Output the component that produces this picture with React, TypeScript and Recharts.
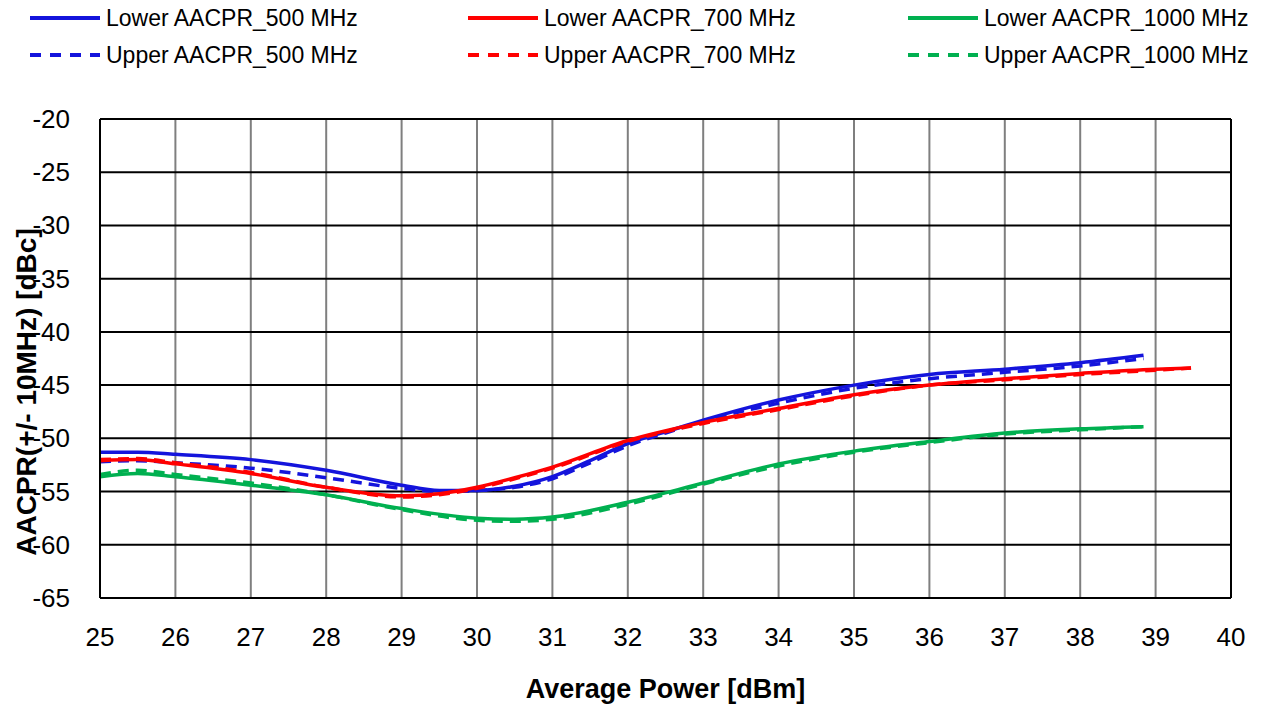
import React from "react";
import { LineChart, Line, XAxis, YAxis, CartesianGrid, ReferenceLine } from "recharts";

const xTicks = [25, 26, 27, 28, 29, 30, 31, 32, 33, 34, 35, 36, 37, 38, 39, 40];
const yTicks = [-65, -60, -55, -50, -45, -40, -35, -30, -25, -20];

const x500 = [25, 25.5, 26, 27, 28, 29, 29.5, 30, 30.5, 31, 31.5, 32, 32.5, 33, 34, 35, 36, 37, 38, 38.84];
const lower500 = [-51.3, -51.3, -51.5, -52.0, -53.0, -54.4, -54.9, -54.9, -54.5, -53.6, -52.1, -50.5, -49.4, -48.3, -46.4, -45.0, -44.0, -43.5, -42.9, -42.2];
const upper500 = [-52.2, -52.1, -52.3, -52.8, -53.7, -54.7, -55.0, -54.9, -54.6, -53.8, -52.3, -50.7, -49.5, -48.4, -46.7, -45.3, -44.4, -43.8, -43.2, -42.5];

const x700 = [25, 25.5, 26, 27, 28, 29, 29.5, 30, 30.5, 31, 32, 33, 34, 35, 36, 37, 38, 39, 39.47];
const lower700 = [-52.1, -52.0, -52.4, -53.3, -54.6, -55.4, -55.2, -54.6, -53.7, -52.7, -50.2, -48.5, -47.2, -45.9, -45.0, -44.4, -43.9, -43.5, -43.4];
const upper700 = [-52.0, -51.9, -52.3, -53.2, -54.6, -55.5, -55.3, -54.7, -53.8, -52.8, -50.3, -48.6, -47.3, -46.0, -45.0, -44.5, -44.0, -43.6, -43.4];

const x1000 = [25, 25.5, 26, 27, 28, 29, 30, 30.5, 31, 32, 33, 34, 35, 36, 37, 38, 38.84];
const lower1000 = [-53.6, -53.3, -53.6, -54.4, -55.3, -56.6, -57.5, -57.6, -57.4, -56.0, -54.2, -52.4, -51.2, -50.3, -49.5, -49.1, -48.9];
const upper1000 = [-53.4, -53.0, -53.4, -54.2, -55.3, -56.7, -57.7, -57.8, -57.6, -56.2, -54.3, -52.6, -51.3, -50.4, -49.6, -49.2, -48.9];

const BLUE = "#1414DC";
const RED = "#FF0000";
const GREEN = "#00B050";
const FONT = "'Liberation Sans', Arial, sans-serif";

const toData = (xs: number[], ys: number[]) => xs.map((x, i) => ({ x, y: ys[i] }));

const seriesList = [
  { name: "Lower AACPR_500 MHz", data: toData(x500, lower500), color: BLUE, dash: undefined as string | undefined },
  { name: "Upper AACPR_500 MHz", data: toData(x500, upper500), color: BLUE, dash: "11 7" },
  { name: "Lower AACPR_700 MHz", data: toData(x700, lower700), color: RED, dash: undefined },
  { name: "Upper AACPR_700 MHz", data: toData(x700, upper700), color: RED, dash: "11 7" },
  { name: "Lower AACPR_1000 MHz", data: toData(x1000, lower1000), color: GREEN, dash: undefined },
  { name: "Upper AACPR_1000 MHz", data: toData(x1000, upper1000), color: GREEN, dash: "11 7" },
];

const legendCols = [30, 468, 908];
const legendRows = [18, 55];
const legendItems = [
  { s: 0, col: 0, row: 0 },
  { s: 2, col: 1, row: 0 },
  { s: 4, col: 2, row: 0 },
  { s: 1, col: 0, row: 1 },
  { s: 3, col: 1, row: 1 },
  { s: 5, col: 2, row: 1 },
];

const XTick = (props: any) => (
  <text x={props.x} y={props.y + 40} textAnchor="middle" fontFamily={FONT} fontSize={26} fill="#000">
    {props.payload.value}
  </text>
);

const YTick = (props: any) => (
  <text x={props.x - 22} y={props.y + 9} textAnchor="end" fontFamily={FONT} fontSize={26} fill="#000">
    {props.payload.value}
  </text>
);

export default function App() {
  return (
    <div style={{ position: "absolute", left: 0, top: 0, width: 1263, height: 708, background: "#fff" }}>
      <LineChart width={1263} height={708} margin={{ top: 119, right: 32, left: 0, bottom: 0 }}>
        <CartesianGrid horizontal={false} stroke="#7f7f7f" strokeWidth={2} />
        <CartesianGrid vertical={false} stroke="#000" strokeWidth={2} />
        <XAxis
          type="number"
          dataKey="x"
          domain={[25, 40]}
          ticks={xTicks}
          height={110}
          tickLine={false}
          axisLine={{ stroke: "#000", strokeWidth: 2 }}
          tick={<XTick />}
          allowDataOverflow
          label={{
            value: "Average Power [dBm]",
            position: "insideBottom",
            offset: 10,
            style: { fontFamily: FONT, fontSize: 27, fontWeight: "bold", fill: "#000" },
          }}
        />
        <YAxis
          type="number"
          dataKey="y"
          domain={[-65, -20]}
          ticks={yTicks}
          width={100}
          tickLine={false}
          axisLine={{ stroke: "#000", strokeWidth: 2 }}
          tick={<YTick />}
          allowDataOverflow
          label={{
            content: () => (
              <text
                x={36}
                y={392}
                transform="rotate(-90 36 392)"
                textAnchor="middle"
                fontFamily={FONT}
                fontSize={28}
                fontWeight="bold"
                fill="#000"
              >
                AACPR(+/- 10MHz) [dBc]
              </text>
            ),
          }}
        />
        <ReferenceLine x={40} stroke="#000" strokeWidth={2} />
        <ReferenceLine y={-20} stroke="#000" strokeWidth={2} />
        {seriesList.map((s) => (
          <Line
            key={s.name}
            data={s.data}
            dataKey="y"
            name={s.name}
            type="monotone"
            stroke={s.color}
            strokeWidth={3.5}
            strokeDasharray={s.dash}
            dot={false}
            isAnimationActive={false}
          />
        ))}
      </LineChart>
      <svg
        width={1263}
        height={80}
        style={{ position: "absolute", left: 0, top: 0, pointerEvents: "none" }}
      >
        {legendItems.map((it) => {
          const s = seriesList[it.s];
          const x0 = legendCols[it.col];
          const y0 = legendRows[it.row];
          return (
            <g key={s.name}>
              <line x1={x0} y1={y0} x2={x0 + 70} y2={y0} stroke={s.color} strokeWidth={4} strokeDasharray={s.dash ? "11 9" : undefined} />
              <text x={x0 + 76} y={y0 + 8} fontFamily={FONT} fontSize={23} fill="#000">
                {s.name}
              </text>
            </g>
          );
        })}
      </svg>
    </div>
  );
}
